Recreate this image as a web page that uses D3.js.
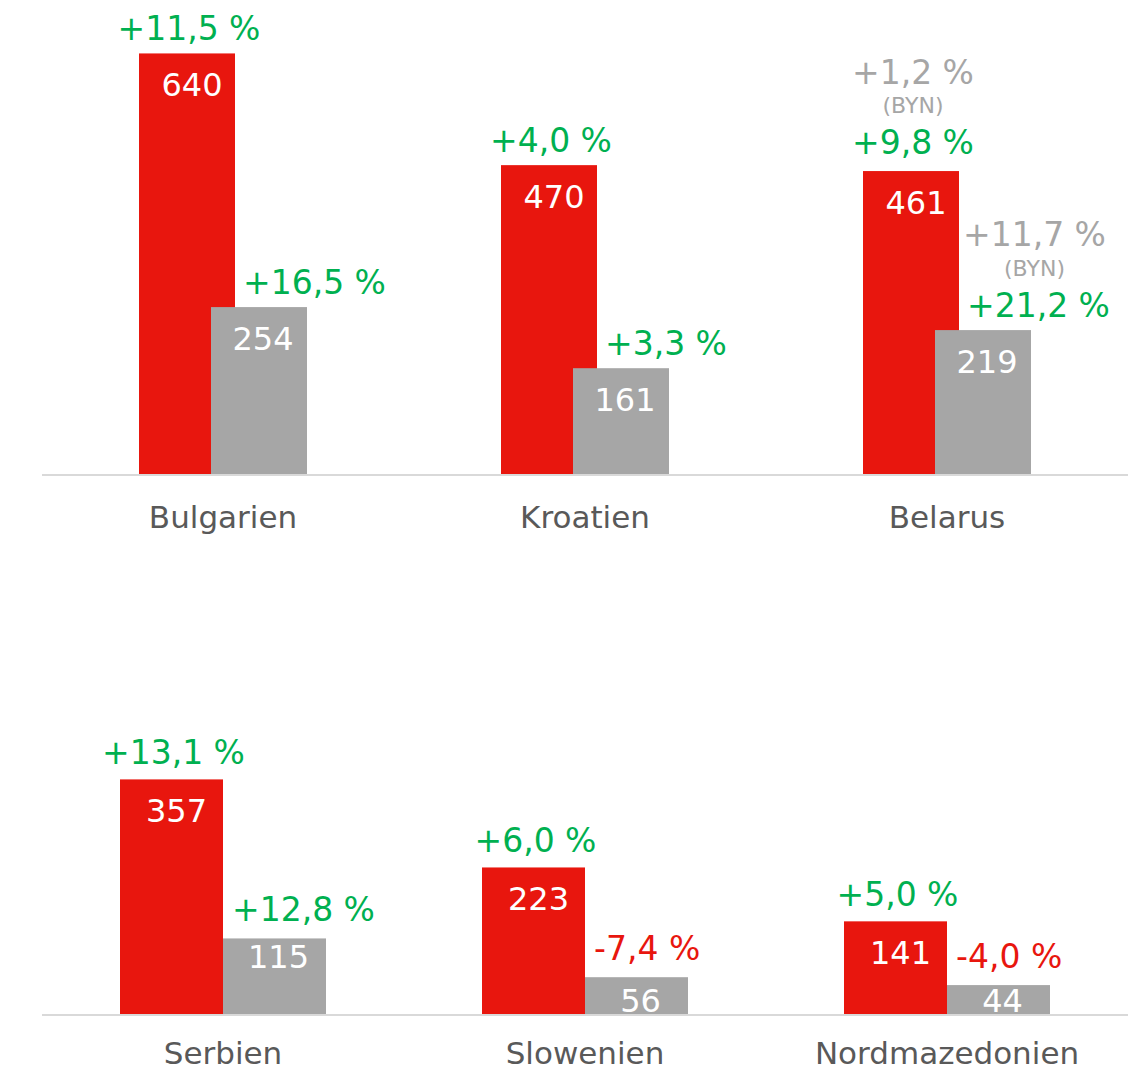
<!DOCTYPE html>
<html>
<head>
<meta charset="utf-8">
<script src="https://cdn.jsdelivr.net/npm/d3@7"></script>
<style>
  body { margin: 0; background: #fff; }
  text { font-family: Verdana, "DejaVu Sans", sans-serif; }
</style>
</head>
<body>
<div id="chart"></div>
<script>
// Data
const topCountries = ["Bulgarien", "Kroatien", "Belarus"];
const bottomCountries = ["Serbien", "Slowenien", "Nordmazedonien"];

const redValues = [640, 470, 461, 357, 223, 141];
const grayValues = [254, 161, 219, 115, 56, 44];

const redChange = ["+11,5 %", "+4,0 %", "+9,8 %", "+13,1 %", "+6,0 %", "+5,0 %"];
const grayChange = ["+16,5 %", "+3,3 %", "+21,2 %", "+12,8 %", "-7,4 %", "-4,0 %"];
// change in local currency (only Belarus)
const redChangeLocal = ["", "", "+1,2 %", "", "", ""];
const grayChangeLocal = ["", "", "+11,7 %", "", "", ""];
const localCurrency = "(BYN)";

const RED = "#e8160e", GRAY = "#a6a6a6", GREEN = "#00b050", TEXT = "#595959";

const width = 1134, height = 1072;

const svg = d3.select("#chart")
    .append("svg")
    .attr("width", width)
    .attr("height", height);

// bar height scale, shared by both panels
const h = d3.scaleLinear().domain([0, 700]).range([0, 460]);

const panels = [
    { countries: topCountries, offset: 0, base: 474, labelY: 54, barW: 96, overlap: 24, grayDx: 32, redGap: 13, grayGap: 13 },
    { countries: bottomCountries, offset: 3, base: 1014, labelY: 50, barW: 103, overlap: 0, grayDx: 9, redGap: 15, grayGap: 17 }
];

function valueBaseline(top, bh) {
    if (bh > 85) return top + 43;
    if (bh > 60) return top + 30;
    return top + bh - 2;
}

panels.forEach((p) => {
    const x = d3.scaleBand()
        .domain(p.countries)
        .range([42, 1128])
        .padding(0);

    const rows = p.countries.map((c, i) => {
        const k = i + p.offset;
        const cx = x(c) + x.bandwidth() / 2;
        const groupW = p.barW * 2 - p.overlap;
        return {
            country: c,
            red: redValues[k], gray: grayValues[k],
            redPct: redChange[k], grayPct: grayChange[k],
            redLocal: redChangeLocal[k], grayLocal: grayChangeLocal[k],
            redX: cx - groupW / 2,
            grayX: cx - groupW / 2 + p.barW - p.overlap
        };
    });

    const g = svg.append("g");

    // red bars first, gray bars drawn over them
    g.selectAll(".bar-red")
        .data(rows)
        .join("rect")
        .attr("class", "bar-red")
        .attr("x", (d) => d.redX)
        .attr("width", p.barW)
        .attr("y", (d) => p.base - h(d.red))
        .attr("height", (d) => h(d.red))
        .attr("fill", RED);

    g.selectAll(".bar-gray")
        .data(rows)
        .join("rect")
        .attr("class", "bar-gray")
        .attr("x", (d) => d.grayX)
        .attr("width", p.barW)
        .attr("y", (d) => p.base - h(d.gray))
        .attr("height", (d) => h(d.gray))
        .attr("fill", GRAY);

    // value labels inside the bars
    g.selectAll(".val-red")
        .data(rows)
        .join("text")
        .attr("class", "val-red")
        .attr("x", (d) => d.redX + p.barW / 2 + 5)
        .attr("y", (d) => valueBaseline(p.base - h(d.red), h(d.red)))
        .attr("text-anchor", "middle")
        .attr("font-size", 32)
        .attr("fill", "#fff")
        .text((d) => d.red);

    g.selectAll(".val-gray")
        .data(rows)
        .join("text")
        .attr("class", "val-gray")
        .attr("x", (d) => d.grayX + p.barW / 2 + 4)
        .attr("y", (d) => valueBaseline(p.base - h(d.gray), h(d.gray)))
        .attr("text-anchor", "middle")
        .attr("font-size", 32)
        .attr("fill", "#fff")
        .text((d) => d.gray);

    // axis line
    g.append("line")
        .attr("x1", 42).attr("x2", 1128)
        .attr("y1", p.base + 1).attr("y2", p.base + 1)
        .attr("stroke", "#d9d9d9")
        .attr("stroke-width", 2);

    // category labels
    g.append("g")
        .attr("transform", `translate(0, ${p.base})`)
        .call(d3.axisBottom(x).tickSize(0).tickPadding(0))
        .call((ax) => ax.select(".domain").remove())
        .selectAll("text")
        .attr("y", p.labelY)
        .attr("dy", null)
        .attr("font-size", 31)
        .attr("font-family", 'Verdana, "DejaVu Sans", sans-serif')
        .attr("fill", TEXT);

    const pctColor = (s) => s.startsWith("-") ? RED : GREEN;

    // change labels above red bars
    rows.forEach((d) => {
        const top = p.base - h(d.red);
        const cx = d.redX + p.barW / 2 + 2;
        g.append("text")
            .attr("x", cx)
            .attr("y", top - (d.redLocal ? 17 : p.redGap))
            .attr("text-anchor", "middle")
            .attr("font-size", 33)
            .attr("fill", pctColor(d.redPct))
            .text(d.redPct);
        if (d.redLocal) {
            g.append("text")
                .attr("x", cx)
                .attr("y", top - 87)
                .attr("text-anchor", "middle")
                .attr("font-size", 33)
                .attr("fill", GRAY)
                .text(d.redLocal);
            g.append("text")
                .attr("x", cx)
                .attr("y", top - 58)
                .attr("text-anchor", "middle")
                .attr("font-size", 22)
                .attr("fill", GRAY)
                .text(localCurrency);
        }
    });

    // change labels above gray bars
    rows.forEach((d) => {
        const top = p.base - h(d.gray);
        const lx = d.grayX + p.grayDx;
        g.append("text")
            .attr("x", lx)
            .attr("y", top - p.grayGap)
            .attr("font-size", 33)
            .attr("fill", pctColor(d.grayPct))
            .text(d.grayPct);
        if (d.grayLocal) {
            const t = g.append("text")
                .attr("x", lx - 4)
                .attr("y", top - 84)
                .attr("font-size", 33)
                .attr("fill", GRAY)
                .text(d.grayLocal);
            const w = t.node().getComputedTextLength();
            g.append("text")
                .attr("x", lx - 4 + w / 2)
                .attr("y", top - 54)
                .attr("text-anchor", "middle")
                .attr("font-size", 22)
                .attr("fill", GRAY)
                .text(localCurrency);
        }
    });
});
</script>
</body>
</html>
